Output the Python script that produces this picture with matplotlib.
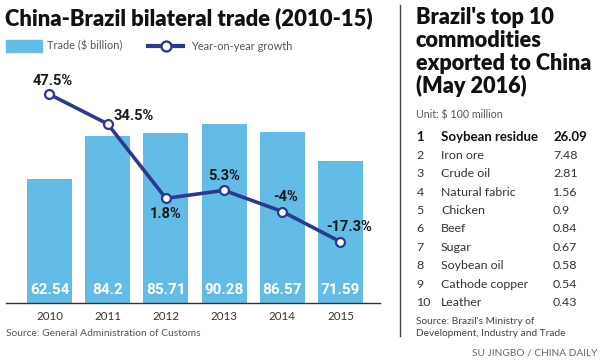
import matplotlib
matplotlib.use("Agg")
import matplotlib.pyplot as plt
from matplotlib.lines import Line2D
from matplotlib.patches import Rectangle

years = ["2010", "2011", "2012", "2013", "2014", "2015"]
trade = [62.54, 84.2, 85.71, 90.28, 86.57, 71.59]
trade_labels = ["62.54", "84.2", "85.71", "90.28", "86.57", "71.59"]
growth = [47.5, 34.5, 1.8, 5.3, -4.0, -17.3]
growth_labels = ["47.5%", "34.5%", "1.8%", "5.3%", "-4%", "-17.3%"]

ranks = ["1", "2", "3", "4", "5", "6", "7", "8", "9", "10"]
commodities = ["Soybean residue", "Iron ore", "Crude oil", "Natural fabric", "Chicken",
               "Beef", "Sugar", "Soybean oil", "Cathode copper", "Leather"]
export_values = ["26.09", "7.48", "2.81", "1.56", "0.9", "0.84", "0.67", "0.58", "0.54", "0.43"]

W, H = 600, 362
BAR = "#63bce5"
NAVY = "#2b3a8f"
TF = "Lato"

fig = plt.figure(figsize=(W / 100, H / 100), dpi=100)
fig.patch.set_facecolor("white")

def fx(px):
    return px / W

def fy(py):
    return 1 - py / H

def txt(x, y, s, **kw):
    return fig.text(fx(x), fy(y), s, **kw)

# main axes: x 6..380 px, y 75..303 px
ax = fig.add_axes([fx(6), fy(303), fx(380) - fx(6), (303 - 75) / H])
ax2 = ax.twinx()
xs = list(range(len(years)))
ax.bar(xs, trade, width=0.773, color=BAR, zorder=1)
ax.set_ylim(0, 115.2)
ax.set_xlim(-0.747, 5.679)
ax2.set_ylim(-44.2, 56.0)
ax2.plot(xs, growth, color=NAVY, lw=2.6, marker="o", ms=6.4, mfc="white",
         mec=NAVY, mew=1.6, zorder=3)
for a in (ax, ax2):
    for s in a.spines.values():
        s.set_visible(False)
    a.set_yticks([])
ax.spines["bottom"].set_visible(True)
ax.spines["bottom"].set_color("#333333")
ax.spines["bottom"].set_linewidth(1.0)
ax.set_xticks(xs)
ax.set_xticklabels(years, fontsize=8.3, color="#333333", family=TF)
ax.tick_params(axis="x", length=0, pad=5.5)
ax.patch.set_alpha(0)

for i, lab in enumerate(trade_labels):
    ax.text(i, 6.5, lab, ha="center", va="center", color="white",
            fontsize=11, fontweight="bold", family="Roboto")

offsets = [(0.05, 5.8), (0.45, 3.5), (0.0, -7.0), (0.0, 6.2), (0.05, 6.3), (0.15, 6.5)]
for i, lab in enumerate(growth_labels):
    dx, dy = offsets[i]
    ax2.text(i + dx, growth[i] + dy, lab, ha="center", va="center", color="#1a1a1a",
             fontsize=10.5, fontweight="bold", family="Roboto")

# Title
txt(5, 18, "China-Brazil bilateral trade (2010-15)", ha="left", va="center",
    fontsize=15.8, fontweight="heavy", family=TF, color="#111111")

# legend
fig.patches.append(Rectangle((fx(6), fy(52)), fx(42) - fx(6), (52 - 40) / H,
                             transform=fig.transFigure, color=BAR))
txt(47, 46, "Trade ($ billion)", ha="left", va="center", fontsize=7.9, color="#555555", family=TF)
fig.lines.append(Line2D([fx(148), fx(183)], [fy(46), fy(46)], transform=fig.transFigure,
                        color=NAVY, lw=3.0))
fig.lines.append(Line2D([fx(165.5)], [fy(46)], transform=fig.transFigure, color=NAVY,
                        marker="o", ms=7.2, mfc="white", mec=NAVY, mew=1.7))
txt(191, 46, "Year-on-year growth", ha="left", va="center", fontsize=7.9, color="#555555", family=TF)

txt(6, 333, "Source: General Administration of Customs", ha="left", va="center",
    fontsize=7.4, color="#555555", family=TF)

# divider
fig.lines.append(Line2D([fx(400), fx(400)], [fy(5), fy(336)], transform=fig.transFigure,
                        color="#444444", lw=1.0))

# right title
rt = ["Brazil's top 10", "commodities", "exported to China", "(May 2016)"]
for k, line in enumerate(rt):
    txt(415.5, 18 + 22.7 * k, line, ha="left", va="center", fontsize=15.6,
        fontweight="heavy", family=TF, color="#111111")
txt(416, 115, "Unit: $ 100 million", ha="left", va="center", fontsize=7.7,
    color="#555555", family=TF)

for k in range(len(ranks)):
    y = 136.7 + 18.44 * k
    bold = k == 0
    col = "#111111" if bold else "#333333"
    w = "bold" if bold else "normal"
    fs = 9.5 if bold else 8.9
    txt(416.5, y, ranks[k], ha="left", va="center", fontsize=fs, color=col, fontweight=w, family=TF)
    txt(441, y, commodities[k], ha="left", va="center", fontsize=fs, color=col, fontweight=w, family=TF)
    txt(553, y, export_values[k], ha="left", va="center", fontsize=fs, color=col, fontweight=w, family=TF)

txt(416, 321.7, "Source: Brazil's Ministry of", ha="left", va="center", fontsize=7.3,
    color="#444444", family=TF)
txt(416, 333.3, "Development, Industry and Trade", ha="left", va="center", fontsize=7.3,
    color="#444444", family=TF)
txt(597, 353.3, "SU JINGBO / CHINA DAILY", ha="right", va="center", fontsize=7.3,
    color="#666666", family=TF)

fig.savefig("out.png", dpi=100, facecolor="white")
